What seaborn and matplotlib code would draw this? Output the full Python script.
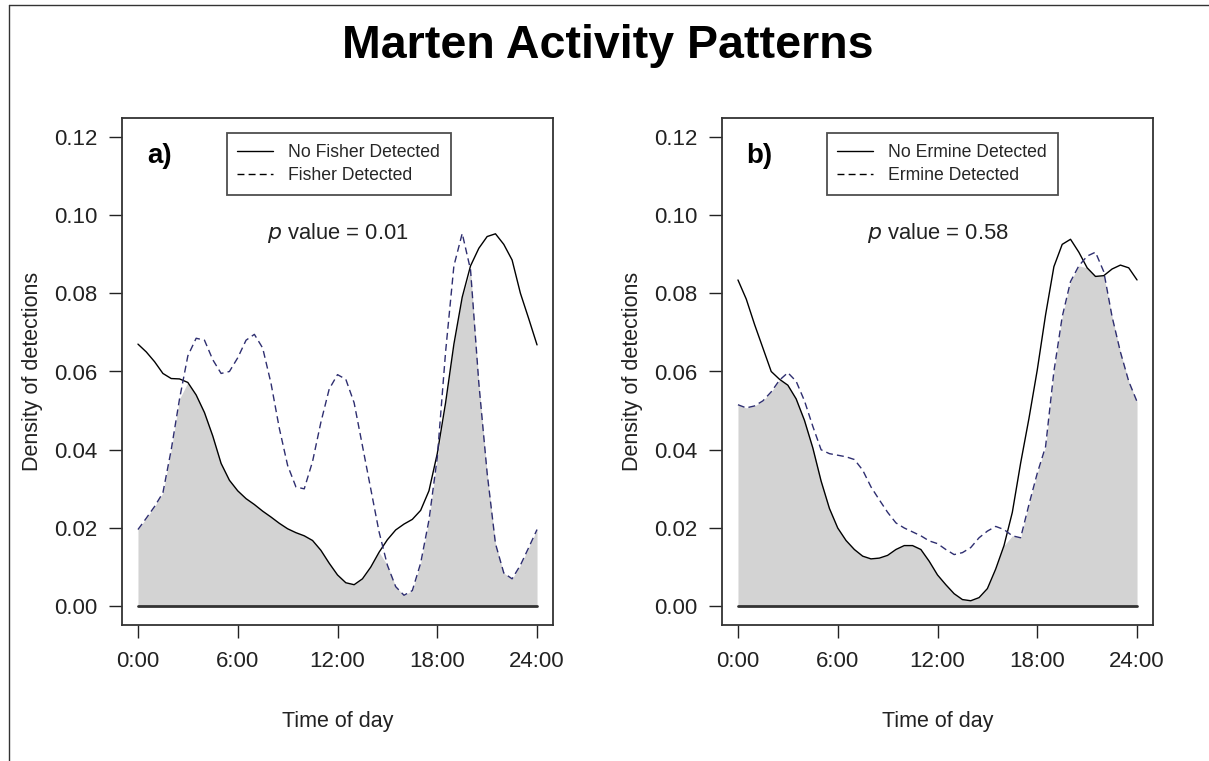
import numpy as np
import pandas as pd
import matplotlib
matplotlib.use("Agg")
import matplotlib.pyplot as plt
from matplotlib.lines import Line2D
import seaborn as sns

# ---- data ----
hours = [i * 0.5 for i in range(49)]

no_fisher = [0.0670, 0.0650, 0.0625, 0.0595, 0.0582, 0.0581, 0.0572, 0.0540, 0.0495, 0.0435,
             0.0365, 0.0322, 0.0295, 0.0275, 0.0260, 0.0243, 0.0228, 0.0212, 0.0198, 0.0188,
             0.0180, 0.0168, 0.0143, 0.0110, 0.0080, 0.0060, 0.0055, 0.0070, 0.0100, 0.0138,
             0.0170, 0.0195, 0.0210, 0.0222, 0.0245, 0.0295, 0.0390, 0.0520, 0.0670, 0.0790,
             0.0870, 0.0915, 0.0945, 0.0952, 0.0925, 0.0885, 0.0800, 0.0735, 0.0668]
fisher = [0.0196, 0.0225, 0.0255, 0.0290, 0.0400, 0.0530, 0.0640, 0.0685, 0.0680, 0.0630,
          0.0595, 0.0600, 0.0635, 0.0680, 0.0695, 0.0660, 0.0570, 0.0455, 0.0360, 0.0305,
          0.0300, 0.0370, 0.0470, 0.0555, 0.0592, 0.0580, 0.0520, 0.0410, 0.0300, 0.0190,
          0.0105, 0.0050, 0.0028, 0.0040, 0.0110, 0.0220, 0.0380, 0.0650, 0.0870, 0.0953,
          0.0860, 0.0570, 0.0340, 0.0160, 0.0085, 0.0070, 0.0105, 0.0150, 0.0196]
no_ermine = [0.0834, 0.0785, 0.0720, 0.0660, 0.0600, 0.0580, 0.0565, 0.0530, 0.0475, 0.0405,
             0.0320, 0.0250, 0.0200, 0.0168, 0.0145, 0.0128, 0.0121, 0.0123, 0.0130, 0.0145,
             0.0155, 0.0155, 0.0145, 0.0115, 0.0080, 0.0055, 0.0032, 0.0017, 0.0014, 0.0022,
             0.0045, 0.0095, 0.0155, 0.0240, 0.0366, 0.0480, 0.0604, 0.0745, 0.0868, 0.0925,
             0.0938, 0.0905, 0.0865, 0.0843, 0.0845, 0.0862, 0.0872, 0.0865, 0.0834]
ermine = [0.0515, 0.0507, 0.0512, 0.0525, 0.0548, 0.0578, 0.0597, 0.0575, 0.0525, 0.0460,
          0.0400, 0.0390, 0.0386, 0.0382, 0.0375, 0.0348, 0.0305, 0.0272, 0.0240, 0.0213,
          0.0200, 0.0190, 0.0180, 0.0167, 0.0160, 0.0145, 0.0132, 0.0137, 0.0150, 0.0175,
          0.0192, 0.0204, 0.0196, 0.0180, 0.0175, 0.0260, 0.0340, 0.0408, 0.0600, 0.0740,
          0.0830, 0.0870, 0.0895, 0.0905, 0.0855, 0.0740, 0.0650, 0.0575, 0.0523]

xticks = [0, 6, 12, 18, 24]
xtick_labels = ["0:00", "6:00", "12:00", "18:00", "24:00"]
yticks = [0.00, 0.02, 0.04, 0.06, 0.08, 0.10, 0.12]
ytick_labels = ["0.00", "0.02", "0.04", "0.06", "0.08", "0.10", "0.12"]

panels = [
    ("a)", no_fisher, fisher, "No Fisher Detected", "Fisher Detected", "0.01"),
    ("b)", no_ermine, ermine, "No Ermine Detected", "Ermine Detected", "0.58"),
]

sns.set_theme(style="white")
plt.rcParams["font.family"] = ["Liberation Sans", "DejaVu Sans"]

W, H = 1209, 761
fig = plt.figure(figsize=(W / 100, H / 100), dpi=100)
fig.patch.set_facecolor("white")

# figure border (top and left edge, as in the screenshot)
fig.add_artist(Line2D([9 / W, 9 / W], [0, 1 - 5 / H], transform=fig.transFigure,
                      color="#333333", lw=1.0))
fig.add_artist(Line2D([9 / W, 1], [1 - 5 / H, 1 - 5 / H], transform=fig.transFigure,
                      color="#333333", lw=1.0))

fig.text(0.5025, 1 - 46 / H, "Marten Activity Patterns", ha="center", va="center",
         fontsize=33.5, fontweight="bold", color="black")

lefts = [122 / W, 722 / W]
ax_w = 431 / W
bottom = 1 - 625 / H
ax_h = 507 / H
dash_col = "#2e2e70"

for (tag, no_det, det, lab_no, lab_det, pval), left in zip(panels, lefts):
    ax = fig.add_axes([left, bottom, ax_w, ax_h])
    df = pd.DataFrame({"hour": hours, "no": no_det, "det": det})
    overlap = np.minimum(df["no"].values, df["det"].values)
    ax.fill_between(df["hour"], 0, overlap, color="#d3d3d3", lw=0, zorder=1)
    ax.plot([0, 24], [0, 0], color="#333333", lw=2.0, zorder=2)
    sns.lineplot(data=df, x="hour", y="no", ax=ax, color="black", lw=1.0,
                 zorder=3, label=lab_no, legend=False)
    sns.lineplot(data=df, x="hour", y="det", ax=ax, color=dash_col, lw=1.0,
                 zorder=3, label=lab_det, legend=False, dashes=False)
    ax.lines[-1].set_dashes([5, 3])

    ax.set_xlim(-0.96, 24.96)
    ax.set_ylim(-0.0048, 0.1248)
    ax.set_xticks(xticks)
    ax.set_xticklabels(xtick_labels)
    ax.set_yticks(yticks)
    ax.set_yticklabels(ytick_labels)
    ax.tick_params(axis="both", which="both", direction="out", length=9.5, width=1.0,
                   color="#222222", labelsize=16, labelcolor="#222222",
                   bottom=True, left=True)
    ax.tick_params(axis="x", pad=9)
    ax.tick_params(axis="y", pad=8)
    for s in ax.spines.values():
        s.set_color("#333333")
        s.set_linewidth(1.3)
    ax.set_xlabel("Time of day", fontsize=15.5, color="#222222", labelpad=28)
    ax.set_ylabel("Density of detections", fontsize=15.5, color="#222222", labelpad=8)
    ax.grid(False)

    ax.text(0.087, 0.925, tag, transform=ax.transAxes, fontsize=20, fontweight="bold",
            ha="center", va="center", color="black")
    ax.text(0.5, 0.773, "$\\it{p}$ value = " + pval, transform=ax.transAxes,
            fontsize=15.8, ha="center", va="center", color="#222222")

    handles = [Line2D([], [], color="black", lw=1.0),
               Line2D([], [], color="black", lw=1.0, dashes=[5, 3])]
    leg = ax.legend(handles, [lab_no, lab_det], loc="upper left",
                    bbox_to_anchor=(0.243, 0.970), frameon=True, fancybox=False,
                    fontsize=12.7, handlelength=2.0, handletextpad=0.9,
                    borderpad=0.6, labelspacing=0.35, borderaxespad=0)
    leg.get_frame().set_edgecolor("#222222")
    leg.get_frame().set_linewidth(1.3)
    leg.get_frame().set_facecolor("white")

fig.savefig("out.png", dpi=100, facecolor="white")
